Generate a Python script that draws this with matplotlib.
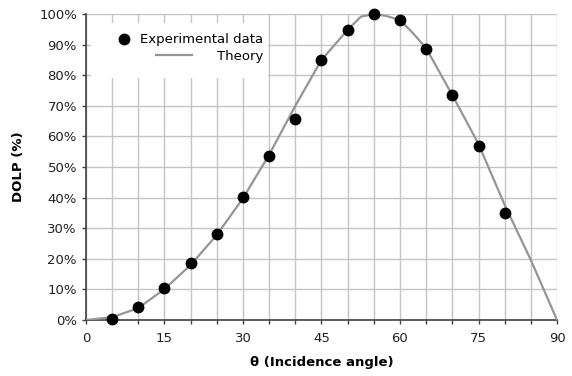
import matplotlib
matplotlib.use("Agg")
import matplotlib.pyplot as plt
from matplotlib.patches import Rectangle
from matplotlib.ticker import PercentFormatter

# experimental DOLP readings (%)
exp_angle = [5, 10, 15, 20, 25, 30, 35, 40, 45, 50, 55, 60, 65, 70, 75, 80]
exp_dolp = [0.3, 4.3, 10.6, 18.5, 28.2, 40.3, 53.5, 65.6, 84.9, 94.8, 100.0,
            98.0, 88.7, 73.4, 57.0, 35.1]

# theory curve
th_angle = [0, 5, 10, 15, 20, 25, 30, 35, 40, 45, 50, 52.5, 55, 57.5, 60,
            62.5, 65, 70, 75, 80, 85, 90]
th_dolp = [0.0, 0.9, 3.9, 10.1, 18.0, 27.8, 39.8, 54.0, 70.0, 85.0, 94.8,
           99.1, 100.0, 99.3, 98.0, 93.7, 88.8, 73.5, 57.5, 37.6, 19.6, 0.0]

x_ticks = list(range(0, 91, 5))
x_labels = [str(t) if t % 15 == 0 else "" for t in x_ticks]
y_ticks = list(range(0, 101, 10))

plt.rcParams['font.family'] = ['DejaVu Sans']
fig = plt.figure(figsize=(5.72, 3.76), dpi=100)
ax = fig.add_axes([0.1503, 0.1489, 0.8235, 0.8139])

ax.plot(th_angle, th_dolp, color="#959595", lw=1.6, label="Theory", zorder=3)
ax.plot(exp_angle, exp_dolp, "o", color="black", ms=7.5, label="Experimental data",
        zorder=4, clip_on=False)

ax.set_xlim(0, 90)
ax.set_ylim(0, 100)
ax.set_xticks(x_ticks)
ax.set_xticklabels(x_labels)
ax.set_yticks(y_ticks)
ax.yaxis.set_major_formatter(PercentFormatter(decimals=0))
ax.tick_params(labelsize=9.5, length=3, width=1, color="#404040", labelcolor="#222222")
ax.tick_params(axis="x", pad=5.5)

ax.grid(True, color="#c4c4c4", lw=1)
ax.set_axisbelow(True)
for side in ["top", "right"]:
    ax.spines[side].set_visible(False)
for side in ["left", "bottom"]:
    ax.spines[side].set_color("#404040")
    ax.spines[side].set_linewidth(1.2)

ax.set_xlabel("θ (Incidence angle)", fontsize=9.5, fontweight="bold", labelpad=8)
ax.set_ylabel("DOLP (%)", fontsize=9.5, fontweight="bold", labelpad=10)

# white legend area hiding the grid
ax.add_patch(Rectangle((0.01, 0.79), 0.376, 0.18, transform=ax.transAxes,
                       facecolor="white", edgecolor="none", zorder=1))

handles, labels = ax.get_legend_handles_labels()
leg = ax.legend(handles[::-1], labels[::-1], loc="upper right", bbox_to_anchor=(0.377, 0.937),
                fontsize=9.5, frameon=False, handlelength=2.7, handletextpad=1.9,
                labelspacing=0.25, borderpad=0, borderaxespad=0)
# right-align the legend rows like the original
for col in leg._legend_handle_box.get_children():
    col.align = "right"
# move the marker next to its text
mk = leg.legend_handles[0]
mk.set_xdata([x + 19 for x in mk.get_xdata()])

fig.savefig("out.png", dpi=100)
